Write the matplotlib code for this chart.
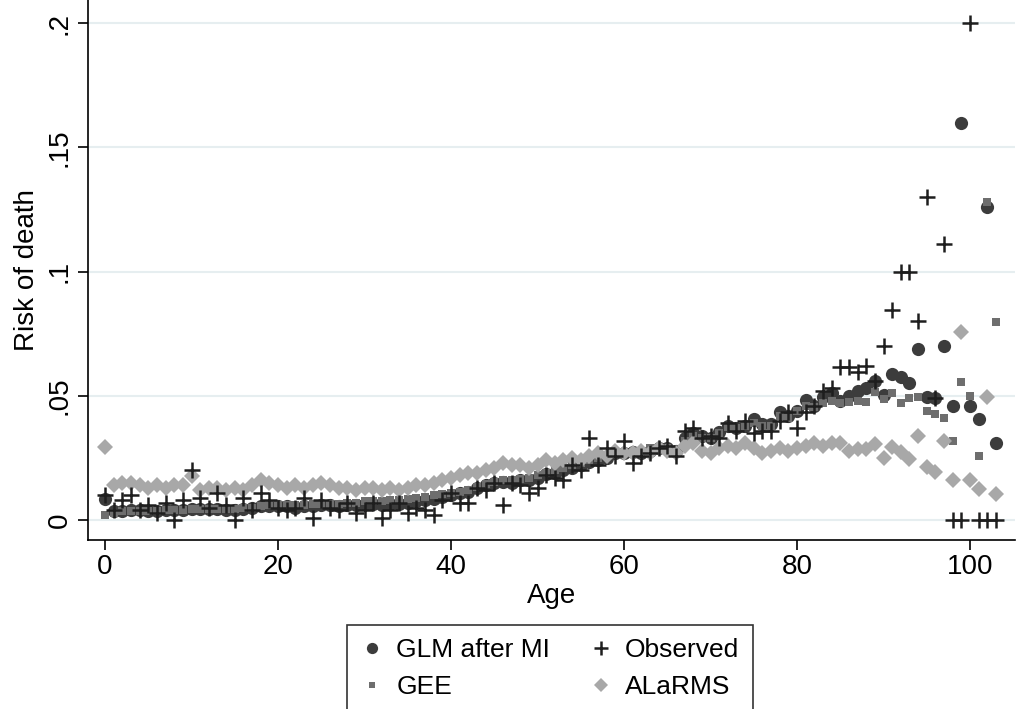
import matplotlib
matplotlib.use("Agg")
import matplotlib.pyplot as plt
import numpy as np

ages = list(range(0, 104))

glm = [0.0085, 0.0035, 0.0038, 0.004, 0.004, 0.0038, 0.0035, 0.004, 0.004, 0.0042,
       0.0045, 0.0045, 0.0045, 0.0045, 0.0042, 0.0042, 0.0045, 0.005, 0.0055, 0.0055,
       0.0055, 0.0055, 0.005, 0.0055, 0.0055, 0.006, 0.006, 0.0055, 0.006, 0.006,
       0.0065, 0.0065, 0.006, 0.0065, 0.0065, 0.007, 0.0075, 0.008, 0.0085, 0.0095,
       0.010, 0.011, 0.0115, 0.013, 0.014, 0.015, 0.0155, 0.015, 0.016, 0.016,
       0.017, 0.0185, 0.019, 0.020, 0.021, 0.022, 0.0235, 0.024, 0.025, 0.027,
       0.027, 0.0275, 0.027, 0.028, 0.029, 0.029, 0.028, 0.033, 0.035, 0.034,
       0.033, 0.0355, 0.038, 0.037, 0.038, 0.0405, 0.0385, 0.0385, 0.0435, 0.042,
       0.044, 0.0485, 0.046, 0.0495, 0.051, 0.048, 0.050, 0.052, 0.053, 0.056,
       0.0505, 0.059, 0.0575, 0.055, 0.069, 0.0495, 0.049, 0.070, 0.046, 0.160,
       0.046, 0.0405, 0.126, 0.031]

gee = [0.002, 0.003, 0.0035, 0.0035, 0.0035, 0.0035, 0.0035, 0.004, 0.004, 0.0042,
       0.0045, 0.0045, 0.0045, 0.0045, 0.0045, 0.0045, 0.005, 0.005, 0.0055, 0.006,
       0.006, 0.006, 0.006, 0.006, 0.0065, 0.0065, 0.0065, 0.0065, 0.007, 0.007,
       0.0075, 0.0075, 0.0075, 0.008, 0.008, 0.0085, 0.009, 0.0095, 0.010, 0.0105,
       0.011, 0.0115, 0.012, 0.0135, 0.0145, 0.0155, 0.016, 0.016, 0.0165, 0.017,
       0.018, 0.019, 0.020, 0.021, 0.022, 0.023, 0.024, 0.025, 0.026, 0.027,
       0.0275, 0.028, 0.028, 0.029, 0.0295, 0.029, 0.028, 0.032, 0.034, 0.033,
       0.033, 0.035, 0.0375, 0.037, 0.038, 0.039, 0.038, 0.038, 0.042, 0.041,
       0.044, 0.046, 0.0455, 0.047, 0.048, 0.047, 0.0475, 0.048, 0.0475, 0.0515,
       0.0487, 0.051, 0.047, 0.049, 0.0495, 0.044, 0.0427, 0.041, 0.032, 0.0555,
       0.050, 0.026, 0.128, 0.0797]

observed = [0.010, 0.004, 0.008, 0.010, 0.004, 0.006, 0.003, 0.007, 0.000, 0.008,
            0.020, 0.009, 0.005, 0.011, 0.006, 0.000, 0.009, 0.004, 0.011, 0.008,
            0.005, 0.004, 0.005, 0.009, 0.001, 0.008, 0.005, 0.004, 0.007, 0.003,
            0.004, 0.007, 0.001, 0.004, 0.007, 0.003, 0.005, 0.004, 0.002, 0.008,
            0.011, 0.007, 0.007, 0.013, 0.012, 0.015, 0.006, 0.015, 0.014, 0.011,
            0.013, 0.018, 0.017, 0.016, 0.022, 0.020, 0.033, 0.022, 0.029, 0.026,
            0.032, 0.023, 0.026, 0.027, 0.029, 0.030, 0.026, 0.036, 0.037, 0.033,
            0.034, 0.033, 0.039, 0.036, 0.040, 0.035, 0.036, 0.036, 0.040, 0.0435,
            0.037, 0.0435, 0.046, 0.052, 0.053, 0.0615, 0.0615, 0.0595, 0.062, 0.056,
            0.070, 0.0845, 0.100, 0.100, 0.080, 0.130, 0.049, 0.111, 0.000, 0.000,
            0.200, 0.000, 0.000, 0.000]

alarms = [0.0295, 0.014, 0.015, 0.015, 0.014, 0.013, 0.014, 0.013, 0.014, 0.014,
          0.0177, 0.012, 0.013, 0.013, 0.012, 0.013, 0.012, 0.014, 0.016, 0.015,
          0.014, 0.013, 0.014, 0.013, 0.014, 0.015, 0.014, 0.013, 0.013, 0.012,
          0.013, 0.013, 0.012, 0.013, 0.012, 0.013, 0.014, 0.014, 0.015, 0.016,
          0.017, 0.018, 0.019, 0.019, 0.020, 0.021, 0.023, 0.022, 0.022, 0.021,
          0.022, 0.024, 0.023, 0.024, 0.025, 0.024, 0.026, 0.027, 0.026, 0.028,
          0.027, 0.027, 0.028, 0.027, 0.029, 0.028, 0.027, 0.030, 0.031, 0.028,
          0.027, 0.029, 0.030, 0.029, 0.031, 0.029, 0.027, 0.028, 0.029, 0.028,
          0.029, 0.030, 0.031, 0.030, 0.031, 0.031, 0.028, 0.0285, 0.0285, 0.0305,
          0.025, 0.0294, 0.0274, 0.0245, 0.0338, 0.0213, 0.0193, 0.0318, 0.016, 0.0756,
          0.016, 0.0125, 0.0495, 0.0105]

series_labels = ["GLM after MI", "GEE", "Observed", "ALaRMS"]
yticks = [0, 0.05, 0.1, 0.15, 0.2]
yticklabels = ["0", ".05", ".1", ".15", ".2"]
xticks = [0, 20, 40, 60, 80, 100]

plt.rcParams['font.family'] = ['Liberation Sans', 'DejaVu Sans']

fig = plt.figure(figsize=(10.24, 7.09), dpi=100)
ax = fig.add_axes([88/1024, 1 - 540/709, (1015-88)/1024, 540/709])

ax.plot(ages, glm, 'o', color='#3c3c3c', ms=9.5, mew=0, label=series_labels[0], zorder=3)
ax.plot(ages, gee, 's', color='#6e6e6e', ms=5.5, mew=0, label=series_labels[1], zorder=4)
ax.plot(ages, alarms, 'D', color='#a8a8a8', ms=8.5, mew=0, label=series_labels[3], zorder=5)
ax.plot(ages, observed, '+', color='#1e1e1e', ms=12, mew=1.8, label=series_labels[2], zorder=6)

ax.set_xlim(-1.97, 105.2)
ax.set_ylim(-0.008, 0.2093)
ax.set_yticks(yticks)
ax.set_yticklabels(yticklabels, rotation=90, va='center')
ax.set_xticks(xticks)
ax.tick_params(axis='both', labelsize=20, length=7, width=1.2, color='black', direction='out')
ax.tick_params(axis='y', pad=4)
ax.tick_params(axis='x', pad=3)
ax.yaxis.grid(True, color='#e6eef0', lw=1.5, zorder=0)
ax.set_axisbelow(True)
for s in ['top', 'right']:
    ax.spines[s].set_visible(False)
for s in ['left', 'bottom']:
    ax.spines[s].set_linewidth(1.2)
ax.set_xlabel("Age", fontsize=20, labelpad=2)
ax.set_ylabel("Risk of death", fontsize=20, labelpad=5)

h, l = ax.get_legend_handles_labels()
order = [0, 1, 3, 2]
leg = fig.legend([h[i] for i in order], [l[i] for i in order], ncol=2,
                 loc='upper center', bbox_to_anchor=(550/1024, 1 - 625/709),
                 fontsize=19, frameon=True, fancybox=False, edgecolor='black',
                 handlelength=0.9, handletextpad=0.45, columnspacing=1.5,
                 labelspacing=0.5, borderpad=0.5, borderaxespad=0,
                 markerscale=0.85)
leg.get_frame().set_linewidth(1.2)

fig.savefig("out.png", dpi=100)
